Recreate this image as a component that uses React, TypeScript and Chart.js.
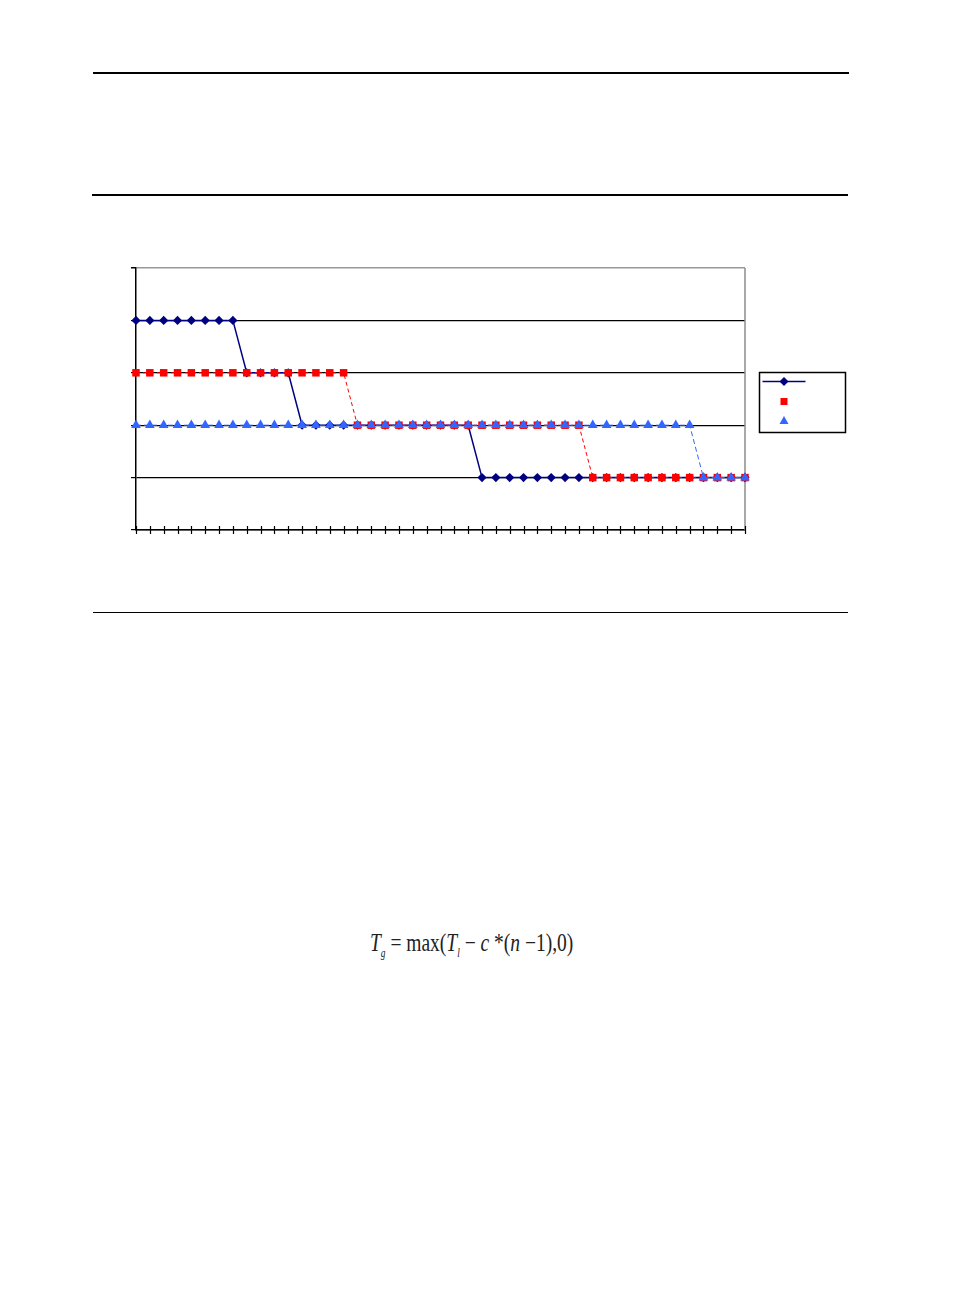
import React, { useEffect, useRef } from 'react';
import { Chart, registerables } from 'chart.js';

Chart.register(...registerables);

// x categories (45 steps)
const categories = [
  '1', '2', '3', '4', '5', '6', '7', '8', '9', '10',
  '11', '12', '13', '14', '15', '16', '17', '18', '19', '20',
  '21', '22', '23', '24', '25', '26', '27', '28', '29', '30',
  '31', '32', '33', '34', '35', '36', '37', '38', '39', '40',
  '41', '42', '43', '44', '45',
];

const seriesNames = ['T1', 'T2', 'T3'];

const navyValues = [
  4, 4, 4, 4, 4, 4, 4, 4, 3, 3,
  3, 3, 2, 2, 2, 2, 2, 2, 2, 2,
  2, 2, 2, 2, 2, 1, 1, 1, 1, 1,
  1, 1, 1, 1, 1, 1, 1, 1, 1, 1,
  1, 1, 1, 1, 1,
];

const redValues = [
  3, 3, 3, 3, 3, 3, 3, 3, 3, 3,
  3, 3, 3, 3, 3, 3, 2, 2, 2, 2,
  2, 2, 2, 2, 2, 2, 2, 2, 2, 2,
  2, 2, 2, 1, 1, 1, 1, 1, 1, 1,
  1, 1, 1, 1, 1,
];

const blueValues = [
  2, 2, 2, 2, 2, 2, 2, 2, 2, 2,
  2, 2, 2, 2, 2, 2, 2, 2, 2, 2,
  2, 2, 2, 2, 2, 2, 2, 2, 2, 2,
  2, 2, 2, 2, 2, 2, 2, 2, 2, 2,
  2, 1, 1, 1, 1,
];

const yTicks = [0, 1, 2, 3, 4, 5];

const NAVY = '#000080';
const RED = '#ff0000';
const BLUE = '#3366ff';

// right border, crossing x ticks and the boxed legend
const framePlugin = {
  id: 'frame',
  beforeDatasetsDraw(chart: any) {
    const { ctx, chartArea } = chart;
    ctx.save();
    ctx.strokeStyle = '#8c8c8c';
    ctx.lineWidth = 1.5;
    ctx.beginPath();
    ctx.moveTo(chartArea.right, chartArea.top);
    ctx.lineTo(chartArea.right, chartArea.bottom);
    ctx.stroke();
    ctx.restore();
  },
  afterDraw(chart: any) {
    const { ctx, chartArea, scales } = chart;
    ctx.save();
    ctx.strokeStyle = '#000';
    ctx.lineWidth = 1.2;
    categories.forEach((_, i) => {
      const x = Math.round(scales.x.getPixelForValue(i)) + 0.5;
      ctx.beginPath();
      ctx.moveTo(x, chartArea.bottom - 4);
      ctx.lineTo(x, chartArea.bottom + 4);
      ctx.stroke();
    });

    // legend box
    const bx = 639.5;
    const by = 114.5;
    ctx.lineWidth = 1.5;
    ctx.strokeStyle = '#000';
    ctx.strokeRect(bx, by, 86, 60);

    const cx = bx + 24.5;
    // navy line + diamond
    ctx.strokeStyle = NAVY;
    ctx.lineWidth = 1.3;
    ctx.beginPath();
    ctx.moveTo(bx + 3, by + 9);
    ctx.lineTo(bx + 46, by + 9);
    ctx.stroke();
    ctx.fillStyle = NAVY;
    ctx.beginPath();
    ctx.moveTo(cx, by + 4.5);
    ctx.lineTo(cx + 4.5, by + 9);
    ctx.lineTo(cx, by + 13.5);
    ctx.lineTo(cx - 4.5, by + 9);
    ctx.closePath();
    ctx.fill();
    // red square
    ctx.fillStyle = RED;
    ctx.fillRect(cx - 3.5, by + 25.5, 7, 7);
    // blue triangle
    ctx.fillStyle = BLUE;
    ctx.beginPath();
    ctx.moveTo(cx, by + 43.5);
    ctx.lineTo(cx + 4.5, by + 51.5);
    ctx.lineTo(cx - 4.5, by + 51.5);
    ctx.closePath();
    ctx.fill();
    ctx.restore();
  },
};

const StepChart = () => {
  const chartRef = useRef<HTMLCanvasElement>(null);
  const chartInstance = useRef<Chart | null>(null);

  useEffect(() => {
    if (!chartRef.current) return;
    const ctx = chartRef.current.getContext('2d');
    if (!ctx) return;

    if (chartInstance.current) {
      chartInstance.current.destroy();
    }

    chartInstance.current = new Chart(ctx, {
      type: 'line',
      data: {
        labels: categories,
        datasets: [
          {
            label: seriesNames[0],
            data: navyValues,
            borderColor: NAVY,
            backgroundColor: NAVY,
            borderWidth: 1.5,
            pointStyle: 'rectRot',
            pointRadius: 4.6,
            pointBorderWidth: 0,
            tension: 0,
            order: 3,
            clip: false,
          },
          {
            label: seriesNames[1],
            data: redValues,
            borderColor: RED,
            backgroundColor: RED,
            borderWidth: 1,
            borderDash: [4, 3],
            pointStyle: 'rect',
            pointRadius: 5.3,
            pointBorderWidth: 0,
            tension: 0,
            order: 2,
            clip: false,
          },
          {
            label: seriesNames[2],
            data: blueValues,
            borderColor: BLUE,
            backgroundColor: BLUE,
            borderWidth: 1,
            borderDash: [5, 3],
            pointStyle: 'triangle',
            pointRadius: 5.6,
            pointBorderWidth: 0,
            tension: 0,
            order: 1,
            clip: false,
          },
        ] as any,
      },
      options: {
        responsive: false,
        animation: false,
        layout: { padding: { top: 10, right: 115, bottom: 0, left: 0 } },
        plugins: {
          legend: { display: false },
          tooltip: { enabled: false },
        },
        scales: {
          x: {
            type: 'category',
            offset: false,
            grid: { display: false },
            ticks: { display: false },
            border: { display: true, color: '#000', width: 1.5 },
            afterFit: (scale: any) => {
              scale.height = 10;
            },
          },
          y: {
            min: yTicks[0],
            max: yTicks[yTicks.length - 1],
            afterBuildTicks: (scale: any) => {
              scale.ticks = yTicks.map((v) => ({ value: v }));
            },
            grid: {
              color: (c: any) => (c.tick && c.tick.value === 5 ? '#999999' : '#000000'),
              tickColor: '#000',
              lineWidth: (c: any) => (c.tick && c.tick.value === 5 ? 1.5 : 1.2),
              drawTicks: true,
              tickLength: 5,
            },
            ticks: { display: false },
            border: { display: true, color: '#000', width: 1.5 },
            afterFit: (scale: any) => {
              scale.width = 16;
            },
          },
        },
      },
      plugins: [framePlugin],
    });

    return () => {
      if (chartInstance.current) {
        chartInstance.current.destroy();
        chartInstance.current = null;
      }
    };
  }, []);

  return (
    <canvas
      ref={chartRef}
      width={740}
      height={282}
      style={{ position: 'absolute', left: 120, top: 258, width: 740, height: 282 }}
    />
  );
};

const rule = (top: number, left: number, width: number, h: number) => (
  <div
    style={{
      position: 'absolute',
      top,
      left,
      width,
      height: h,
      background: '#000',
    }}
  />
);

export default function App() {
  return (
    <div style={{ position: 'absolute', left: 0, top: 0, width: 956, height: 1296, background: '#fff' }}>
      {rule(72, 93, 756, 2)}
      {rule(194, 92, 756, 2)}
      {rule(612, 93, 755, 1)}
      <StepChart />
      <div
        style={{
          position: 'absolute',
          left: 370,
          top: 929,
          fontFamily: '"Liberation Serif", "Times New Roman", serif',
          fontSize: 25,
          whiteSpace: 'nowrap',
          color: '#222',
          transform: 'scaleX(0.78)',
          transformOrigin: 'left top',
        }}
      >
        <i>T</i>
        <sub style={{ fontSize: 12 }}>
          <i>g</i>
        </sub>
        {' '}= max(<i>T</i>
        <sub style={{ fontSize: 12 }}>
          <i>l</i>
        </sub>
        {' '}− <i>c</i> *(<i>n</i> −1),0)
      </div>
    </div>
  );
}
